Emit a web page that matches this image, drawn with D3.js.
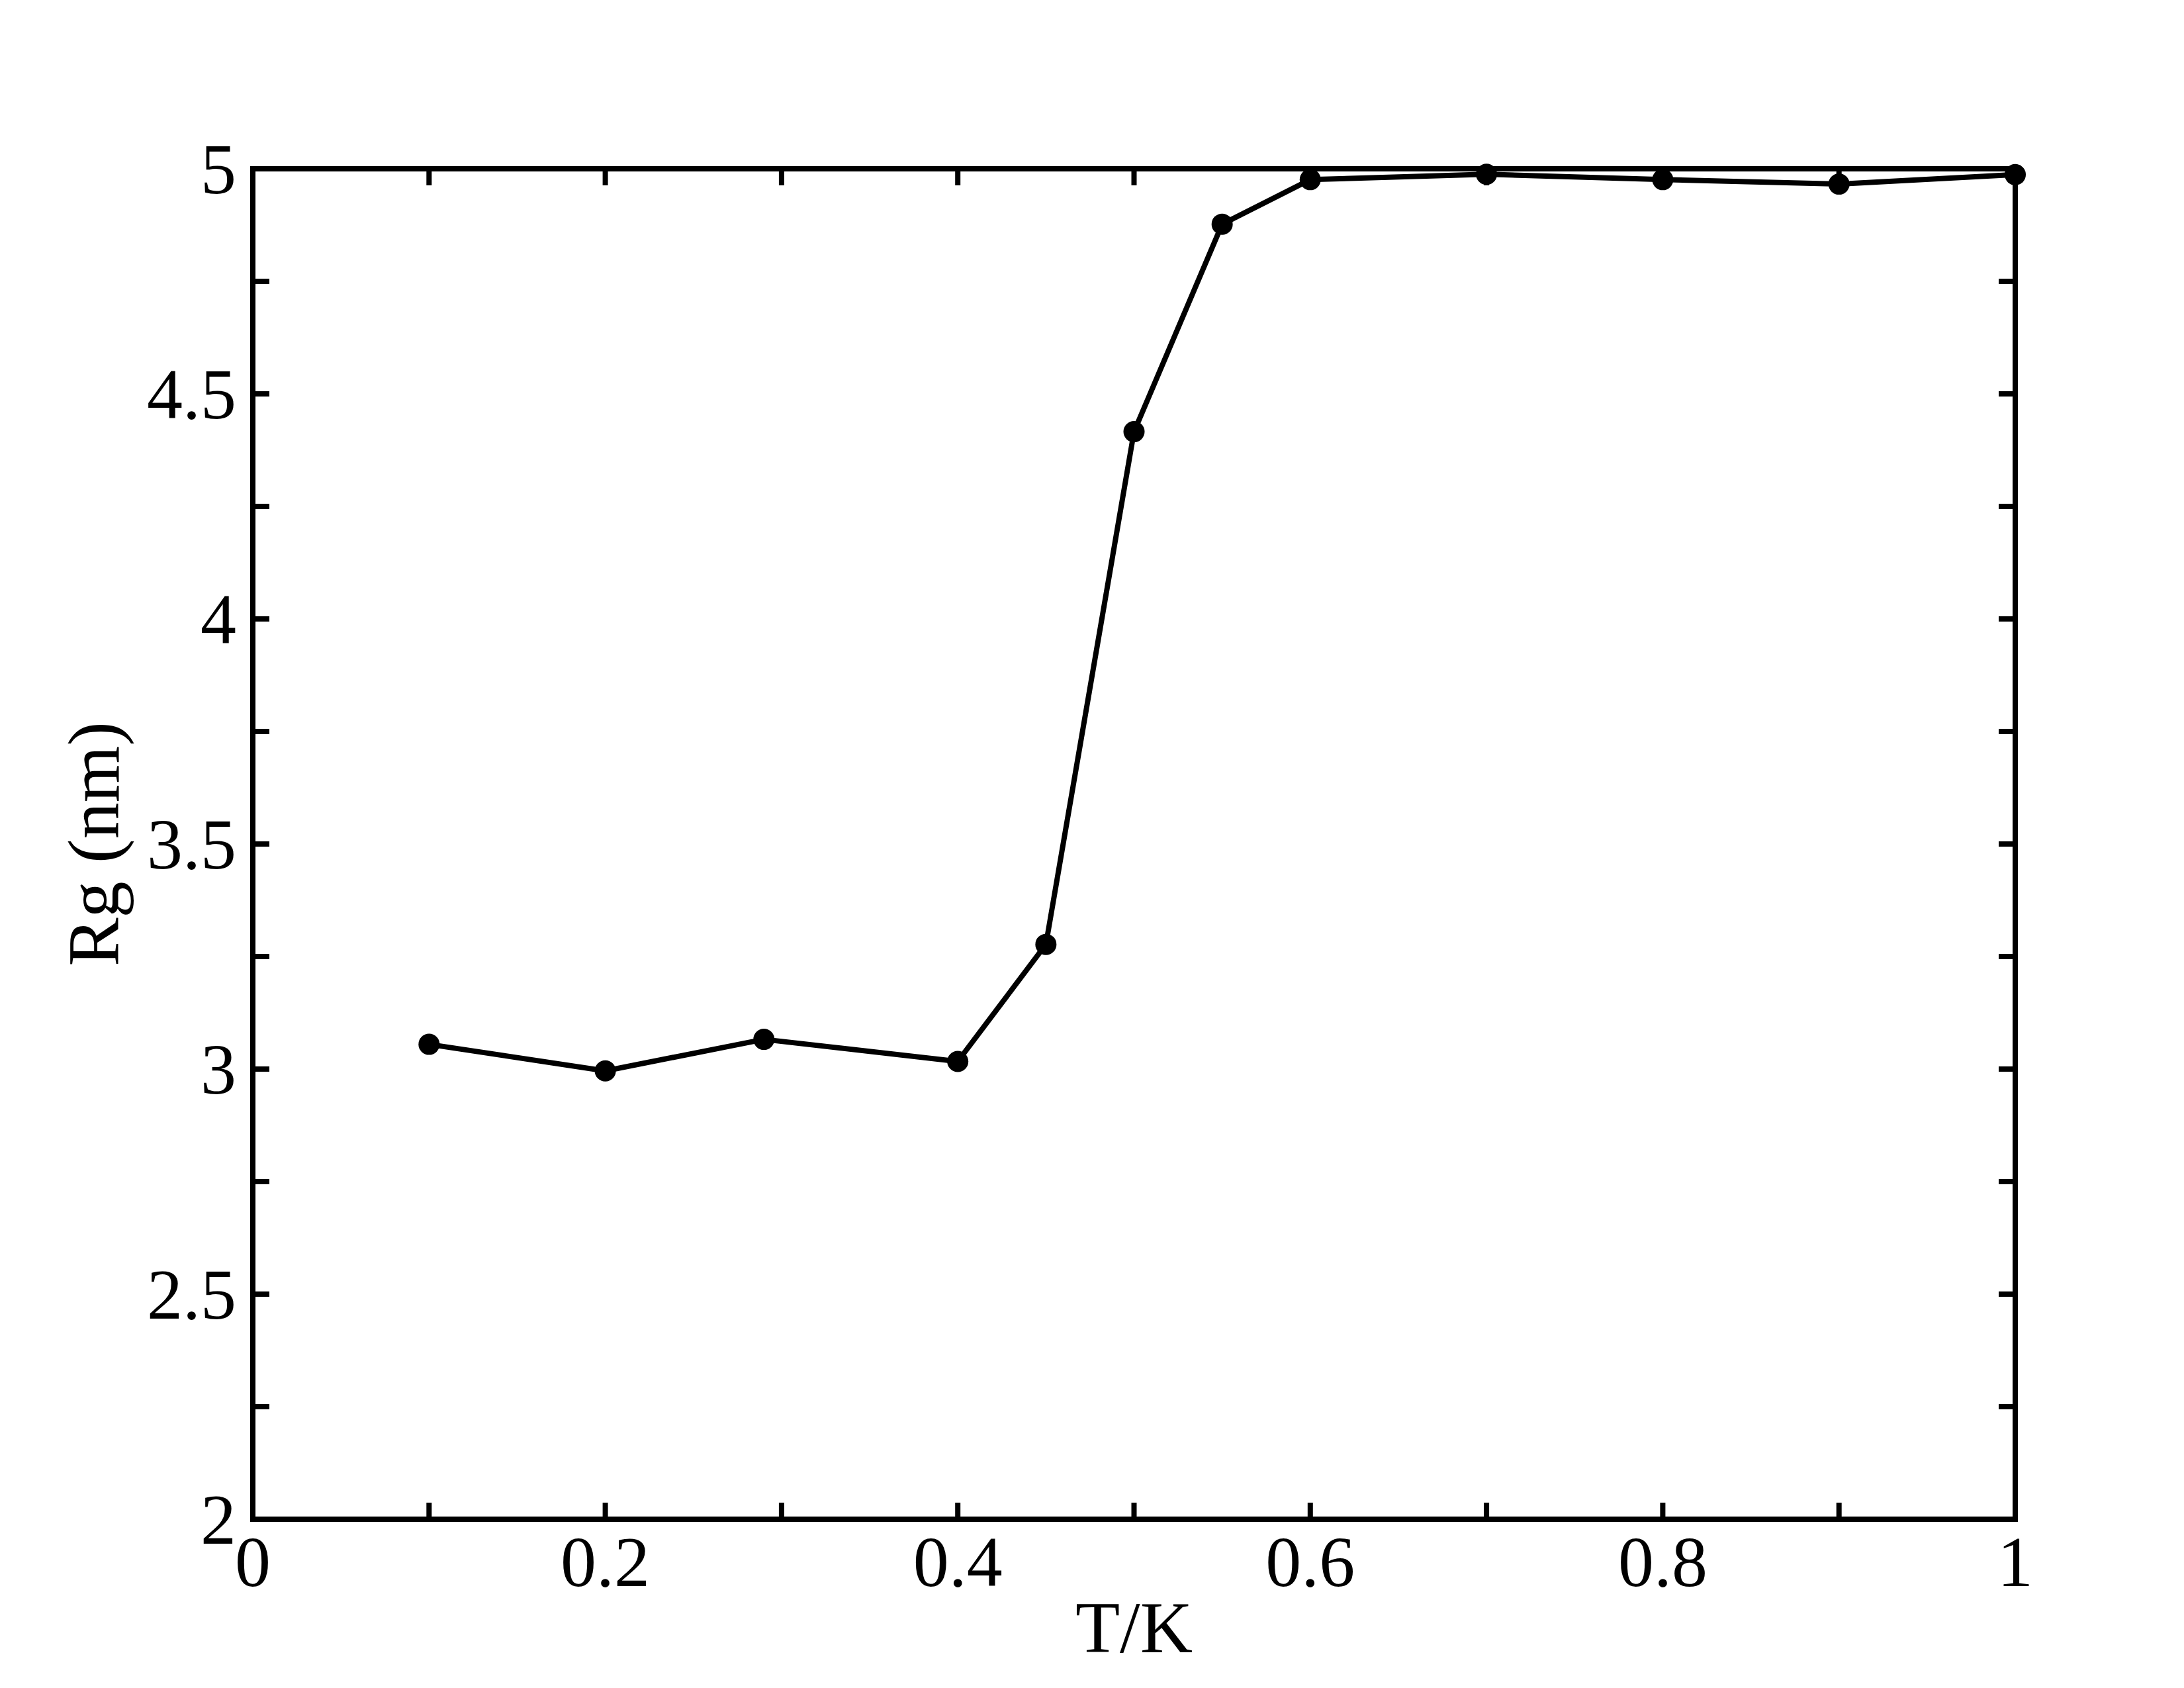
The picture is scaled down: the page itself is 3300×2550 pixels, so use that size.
<!DOCTYPE html>
<html><head><meta charset="utf-8">
<script src="https://cdn.jsdelivr.net/npm/d3@7"></script>
<style>html,body{margin:0;padding:0;background:#fff;}</style>
</head><body>
<script>
const temps = [0.1, 0.2, 0.29, 0.4, 0.45, 0.5, 0.55, 0.6, 0.7, 0.8, 0.9, 1.0];
const rg    = [3.055, 2.996, 3.066, 3.017, 3.277, 4.416, 4.877, 4.976, 4.988, 4.976, 4.966, 4.987];
const xMajorTicks = [0, 0.2, 0.4, 0.6, 0.8, 1];
const xTickLabels = ["0", "0.2", "0.4", "0.6", "0.8", "1"];
const xMinorTicks = [0.1, 0.3, 0.5, 0.7, 0.9];
const yMajorTicks = [2, 2.5, 3, 3.5, 4, 4.5, 5];
const yTickLabels = ["2", "2.5", "3", "3.5", "4", "4.5", "5"];
const yMinorTicks = [2.25, 2.75, 3.25, 3.75, 4.25, 4.75];
const xTitle = "T/K";
const yTitle = "Rg (nm)";

const W = 3300, H = 2550;
const L = 382, R = 3045, T = 255, B = 2295;
const font = "'Liberation Serif', 'Times New Roman', serif";
const fs = 108;

const svg = d3.select("body").append("svg").attr("width", W).attr("height", H)
  .style("display","block");
svg.append("rect").attr("width", W).attr("height", H).attr("fill", "#fff");

const x = d3.scaleLinear().domain([0, 1]).range([L, R]);
const y = d3.scaleLinear().domain([2, 5]).range([B, T]);

const tickLen = 25, sw = 8;
const ticks = svg.append("g").attr("stroke", "#000").attr("stroke-width", sw);
const allX = xMajorTicks.concat(xMinorTicks);
const allY = yMajorTicks.concat(yMinorTicks);
allX.forEach(v => {
  ticks.append("line").attr("x1", x(v)).attr("x2", x(v)).attr("y1", B).attr("y2", B - tickLen);
  ticks.append("line").attr("x1", x(v)).attr("x2", x(v)).attr("y1", T).attr("y2", T + tickLen);
});
allY.forEach(v => {
  ticks.append("line").attr("y1", y(v)).attr("y2", y(v)).attr("x1", L).attr("x2", L + tickLen);
  ticks.append("line").attr("y1", y(v)).attr("y2", y(v)).attr("x1", R).attr("x2", R - tickLen);
});

// tick labels
svg.append("g").selectAll("text").data(xMajorTicks).join("text")
  .attr("x", d => x(d)).attr("y", 2396)
  .attr("text-anchor", "middle")
  .attr("font-family", font).attr("font-size", fs).attr("fill", "#000")
  .text((d, i) => xTickLabels[i]);
svg.append("g").selectAll("text").data(yMajorTicks).join("text")
  .attr("x", 357).attr("y", d => y(d))
  .attr("dy", "0.34em")
  .attr("text-anchor", "end")
  .attr("font-family", font).attr("font-size", fs).attr("fill", "#000")
  .text((d, i) => yTickLabels[i]);

// line + markers
const line = d3.line().x((d, i) => x(temps[i])).y(d => y(d));
svg.append("path").datum(rg).attr("d", line)
  .attr("fill", "none").attr("stroke", "#000").attr("stroke-width", 8)
  .attr("stroke-linejoin", "round");
svg.append("g").selectAll("circle").data(rg).join("circle")
  .attr("cx", (d, i) => x(temps[i])).attr("cy", d => y(d)).attr("r", 16)
  .attr("fill", "#000");

// frame
svg.append("rect").attr("x", L).attr("y", T).attr("width", R - L).attr("height", B - T)
  .attr("fill", "none").attr("stroke", "#000").attr("stroke-width", sw);

// titles
svg.append("text").attr("x", (L + R) / 2).attr("y", 2496)
  .attr("text-anchor", "middle")
  .attr("font-family", font).attr("font-size", 110).attr("fill", "#000")
  .text(xTitle);
svg.append("text")
  .attr("transform", `translate(179, ${(T + B) / 2}) rotate(-90)`)
  .attr("text-anchor", "middle")
  .attr("font-family", font).attr("font-size", 110).attr("fill", "#000")
  .text(yTitle);
</script>
</body></html>
